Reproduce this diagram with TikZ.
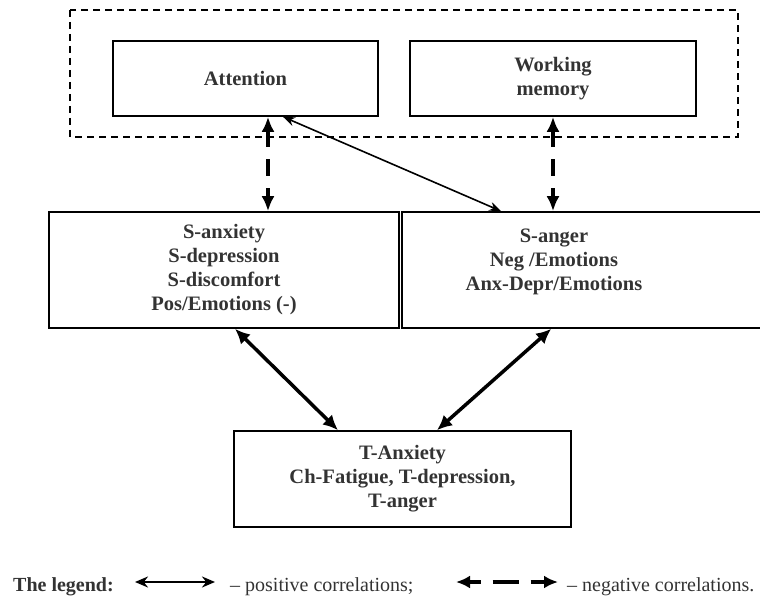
\documentclass[tikz,border=0pt]{standalone}
\usepackage{fontspec}
\setmainfont{Liberation Serif}
\usetikzlibrary{arrows.meta}

\begin{document}
\begin{tikzpicture}[x=1pt,y=-1pt,
  box/.style={draw,line width=1.6pt,inner sep=0pt},
  boxtext/.style={font=\fontsize{20.5}{24}\selectfont\bfseries,text=black!80,align=center},
  legtext/.style={font=\fontsize{20}{22}\selectfont,text=black!80,inner sep=0pt},
  poscorr/.style={line width=3.5pt,{Latex[length=15pt,width=14pt]}-{Latex[length=15pt,width=14pt]}},
  negcorr/.style={line width=4.8pt,dash pattern=on 17pt off 12pt,{Latex[length=15pt,width=13pt]}-{Latex[length=15pt,width=13pt]}},
  thincorr/.style={line width=1.6pt,{Stealth[length=12pt,width=9pt]}-{Stealth[length=12pt,width=9pt]}}]
  \useasboundingbox (0,0) rectangle (760,599);
  % cognitive functions
  \draw[line width=1.5pt,dash pattern=on 7pt off 5pt] (70,10) rectangle (738,137);
  \node[box,boxtext,minimum width=265pt,minimum height=75pt] (attention) at (245.5,78.5) {Attention};
  \node[box,boxtext,minimum width=286pt,minimum height=75pt] (memory) at (553,78.5) {Working\\memory};
  % states
  \node[box,boxtext,minimum width=350pt,minimum height=116pt] (anxiety) at (224,270) {S-anxiety\\S-depression\\S-discomfort\\Pos/Emotions (-)};
  \node[box,minimum width=368pt,minimum height=116pt] (anger) at (586,270) {};
  \node[boxtext,inner sep=0pt,anchor=north] (angertext) at (554,229) {S-anger\\Neg /Emotions\\Anx-Depr/Emotions};
  % traits
  \node[box,boxtext,minimum width=337pt,minimum height=96pt] (trait) at (402.5,479) {T-Anxiety\\Ch-Fatigue, T-depression,\\T-anger};
  % correlations
  \draw[negcorr] ([xshift=22.5pt]attention.south) -- ([xshift=44pt]anxiety.north);
  \draw[negcorr] (memory.south) -- (memory.south |- anger.north);
  \draw[thincorr] ([xshift=37.5pt]attention.south) -- ([xshift=100pt]anger.north west);
  \draw[poscorr] ([xshift=11pt]anxiety.south) -- ([xshift=-64.5pt]trait.north);
  \draw[poscorr] ([xshift=150pt]anger.south west) -- ([xshift=34.5pt]trait.north);
  % legend
  \node[legtext,font=\fontsize{20}{22}\selectfont\bfseries,anchor=base west] (legend) at (13,591) {The legend:};
  \coordinate (posA) at (135,582);
  \coordinate (posB) at (215,582);
  \draw[line width=2.2pt,{Stealth[length=13pt,width=11pt]}-{Stealth[length=13pt,width=11pt]}] (posA) -- (posB);
  \node[legtext,anchor=base west] (postext) at (230,591) {– positive correlations;};
  \coordinate (negA) at (456,582);
  \coordinate (negB) at (558,582);
  \draw[line width=4.5pt,dash pattern=on 12pt off 12pt on 26pt off 12pt on 12pt off 0pt,{Latex[length=14pt,width=13pt]}-{Latex[length=14pt,width=13pt]}] (negA) -- (negB);
  \node[legtext,anchor=base west] (negtext) at (567,591) {– negative correlations.};
\end{tikzpicture}
\end{document}
